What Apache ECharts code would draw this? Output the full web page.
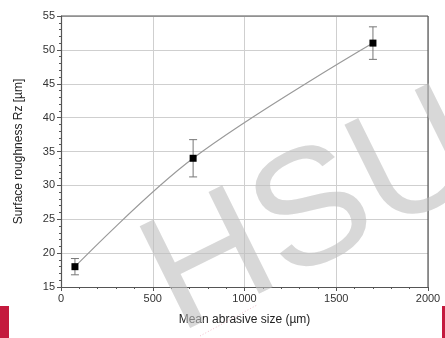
<!DOCTYPE html>
<html><head><meta charset="utf-8">
<script src="https://cdn.jsdelivr.net/npm/echarts@6/dist/echarts.min.js"></script>
<style>html,body{margin:0;padding:0;background:#fff}#c{width:445px;height:338px}</style>
</head><body><div id="c"></div>
<script>
var abrasiveSize = [76, 720, 1700];
var roughnessRz = [18, 34, 51];
var roughnessErr = [1.2, 2.75, 2.4];
var xTicks = [0, 500, 1000, 1500, 2000];
var yTicks = [15, 20, 25, 30, 35, 40, 45, 50, 55];

var pts = abrasiveSize.map(function (x, i) { return [x, roughnessRz[i]]; });
var errData = abrasiveSize.map(function (x, i) { return [x, roughnessRz[i] - roughnessErr[i], roughnessRz[i] + roughnessErr[i]]; });
var font = 'Liberation Sans, Arial, sans-serif';
var chart = echarts.init(document.getElementById('c'));
chart.setOption({
  animation: false,
  grid: { left: 61, right: 17, top: 16, bottom: 51 },
  xAxis: {
    type: 'value', min: xTicks[0], max: xTicks[xTicks.length - 1], interval: 500,
    name: 'Mean abrasive size (µm)', nameLocation: 'middle', nameGap: 27,
    nameTextStyle: { fontFamily: font, fontSize: 12, color: '#222' },
    axisLine: { show: true, lineStyle: { color: '#555', width: 1.2 } },
    axisTick: { show: true, length: 4, lineStyle: { color: '#555' } },
    minorTick: { show: true, splitNumber: 5, length: 2, lineStyle: { color: '#555' } },
    axisLabel: { fontFamily: font, fontSize: 11, color: '#333', margin: 6, formatter: function (v) { return String(v); } },
    splitLine: { show: true, lineStyle: { color: '#cfcfcf', width: 1 } }
  },
  yAxis: {
    type: 'value', min: yTicks[0], max: yTicks[yTicks.length - 1], interval: 5,
    name: 'Surface roughness Rz [µm]', nameLocation: 'middle', nameGap: 36,
    nameTextStyle: { fontFamily: font, fontSize: 12, color: '#222' },
    axisLine: { show: true, lineStyle: { color: '#555', width: 1.2 } },
    axisTick: { show: true, length: 4, lineStyle: { color: '#555' } },
    minorTick: { show: true, splitNumber: 5, length: 2, lineStyle: { color: '#555' } },
    axisLabel: { fontFamily: font, fontSize: 11, color: '#333', margin: 6 },
    splitLine: { show: true, lineStyle: { color: '#cfcfcf', width: 1 } }
  },
  series: [
    {
      type: 'line', data: pts, smooth: 0.35, symbol: 'rect', symbolSize: 7,
      lineStyle: { color: '#9a9a9a', width: 1.2 },
      itemStyle: { color: '#000' }, z: 3
    },
    {
      type: 'custom', data: errData, z: 2,
      renderItem: function (params, api) {
        var x = api.value(0);
        var lo = api.coord([x, api.value(1)]);
        var hi = api.coord([x, api.value(2)]);
        var w = 4;
        var st = { stroke: '#777', lineWidth: 1 };
        return { type: 'group', children: [
          { type: 'line', shape: { x1: lo[0], y1: lo[1], x2: hi[0], y2: hi[1] }, style: st },
          { type: 'line', shape: { x1: lo[0] - w, y1: lo[1], x2: lo[0] + w, y2: lo[1] }, style: st },
          { type: 'line', shape: { x1: hi[0] - w, y1: hi[1], x2: hi[0] + w, y2: hi[1] }, style: st }
        ]};
      }
    }
  ],
  graphic: [
    { type: 'line', shape: { x1: 61, y1: 16, x2: 428, y2: 16 }, style: { stroke: '#555', lineWidth: 1.2 }, z: 10 },
    { type: 'line', shape: { x1: 428, y1: 16, x2: 428, y2: 287 }, style: { stroke: '#555', lineWidth: 1.2 }, z: 10 },
    { type: 'text', x: 314, y: 216, rotation: 0.46, z: 20,
      style: { text: 'HSU', font: '165px ' + font, fill: 'rgba(190,190,190,0.6)', align: 'center', verticalAlign: 'middle' } },
    { type: 'line', shape: { x1: 200, y1: 336, x2: 257, y2: 305 }, style: { stroke: 'rgba(230,120,150,0.6)', lineWidth: 0.8, lineDash: [1, 2] }, z: 20 },
    { type: 'rect', shape: { x: 0, y: 306, width: 9, height: 32 }, style: { fill: '#c41a3e' }, z: 20 },
    { type: 'rect', shape: { x: 442, y: 306, width: 3, height: 32 }, style: { fill: '#c41a3e' }, z: 20 }
  ]
});
</script></body></html>
